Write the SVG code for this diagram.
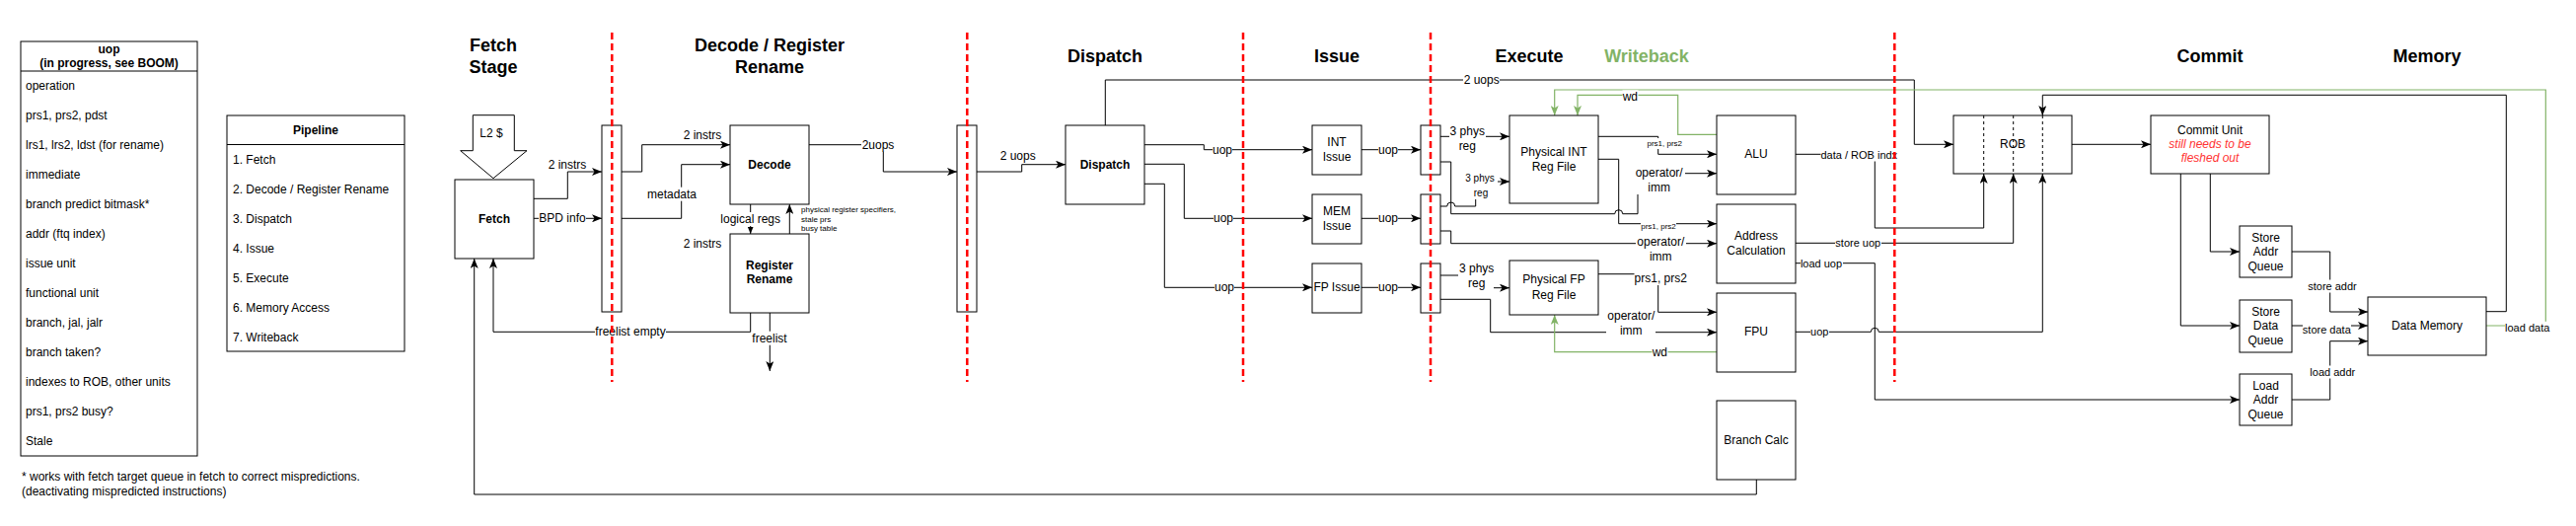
<svg xmlns="http://www.w3.org/2000/svg" width="2611" height="533" viewBox="0 0 2611 533">
<style>
.t{font-family:"Liberation Sans",Arial,Helvetica,sans-serif;font-size:12px;fill:#000;dominant-baseline:central}
.c{text-anchor:middle}
.b{font-weight:bold}
.h{font-size:18px;font-weight:bold}
.s11{font-size:11px}
.s10{font-size:10px}
.s8{font-size:8px}
.box{fill:#fff;stroke:#000;stroke-width:1}
.ln{fill:none;stroke:#000;stroke-width:1}
.gr{fill:none;stroke:#82b366;stroke-width:1.2}
.red{fill:none;stroke:#ff0000;stroke-width:2.5;stroke-dasharray:7 4}
.bg{fill:#fff}
.dv{fill:none;stroke:#000;stroke-width:1;stroke-dasharray:3 3}
</style>
<defs>
<marker id="a" viewBox="0 0 10 8" refX="10" refY="4" markerWidth="10" markerHeight="8" markerUnits="userSpaceOnUse" orient="auto"><path d="M0,0 L10,4 L0,8 L2.5,4 z" fill="#000"/></marker>
<marker id="ag" viewBox="0 0 10 8" refX="10" refY="4" markerWidth="10" markerHeight="8" markerUnits="userSpaceOnUse" orient="auto"><path d="M0,0 L10,4 L0,8 L2.5,4 z" fill="#82b366"/></marker>
<marker id="as" viewBox="0 0 10 8" refX="10" refY="4" markerWidth="7" markerHeight="6" markerUnits="userSpaceOnUse" orient="auto"><path d="M0,0 L10,4 L0,8 z" fill="#000"/></marker>
</defs>
<rect width="2611" height="533" fill="#fff"/>

<!-- titles -->
<g id="titles">
<text class="t c h" x="500" y="46">Fetch</text>
<text class="t c h" x="500" y="68">Stage</text>
<text class="t c h" x="780" y="46">Decode / Register</text>
<text class="t c h" x="780" y="68">Rename</text>
<text class="t c h" x="1120" y="57">Dispatch</text>
<text class="t c h" x="1355" y="57">Issue</text>
<text class="t c h" x="1550" y="57">Execute</text>
<text class="t c h" x="1669" y="57" style="fill:#82b366">Writeback</text>
<text class="t c h" x="2240" y="57">Commit</text>
<text class="t c h" x="2460" y="57">Memory</text>
</g>

<!-- uop list -->
<g id="uop-box">
<rect class="box" x="21" y="42" width="179" height="420"/>
<line class="ln" x1="21" y1="72" x2="200" y2="72"/>
<text class="t c b" x="110.5" y="50">uop</text>
<text class="t c b" x="110.5" y="63.5">(in progress, see BOOM)</text>
<text class="t" x="26" y="86.7">operation</text>
<text class="t" x="26" y="116.7">prs1, prs2, pdst</text>
<text class="t" x="26" y="146.7">lrs1, lrs2, ldst (for rename)</text>
<text class="t" x="26" y="176.7">immediate</text>
<text class="t" x="26" y="206.7">branch predict bitmask*</text>
<text class="t" x="26" y="236.7">addr (ftq index)</text>
<text class="t" x="26" y="266.7">issue unit</text>
<text class="t" x="26" y="296.7">functional unit</text>
<text class="t" x="26" y="326.7">branch, jal, jalr</text>
<text class="t" x="26" y="356.7">branch taken?</text>
<text class="t" x="26" y="386.7">indexes to ROB, other units</text>
<text class="t" x="26" y="416.7">prs1, prs2 busy?</text>
<text class="t" x="26" y="446.7">Stale</text>
</g>

<g id="pipeline-box">
<rect class="box" x="230" y="117" width="180" height="239"/>
<line class="ln" x1="230" y1="146.5" x2="410" y2="146.5"/>
<text class="t c b" x="320" y="131.7">Pipeline</text>
<text class="t" x="236" y="161.7">1. Fetch</text>
<text class="t" x="236" y="191.7">2. Decode / Register Rename</text>
<text class="t" x="236" y="221.7">3. Dispatch</text>
<text class="t" x="236" y="251.7">4. Issue</text>
<text class="t" x="236" y="281.7">5. Execute</text>
<text class="t" x="236" y="311.7">6. Memory Access</text>
<text class="t" x="236" y="341.7">7. Writeback</text>
</g>

<g id="footnote">
<text class="t" x="22" y="483.3">* works with fetch target queue in fetch to correct mispredictions.</text>
<text class="t" x="22" y="498.3">(deactivating mispredicted instructions)</text>
</g>

<!-- connectors -->
<g id="connectors">
<path class="ln" d="M541,201.3 H575.3 V174 H610" marker-end="url(#a)"/>
<path class="ln" d="M541,221.3 H610" marker-end="url(#a)"/>
<path class="ln" d="M630,174 H650.7 V146.7 H740" marker-end="url(#a)"/>
<path class="ln" d="M630,221.3 H690.7 V166.7 H740" marker-end="url(#a)"/>
<path class="ln" d="M760.7,207 V237" marker-end="url(#as)"/>
<path class="ln" d="M800.3,237 V207" marker-end="url(#a)"/>
<path class="ln" d="M760.7,317 V336.3 H500 V262" marker-end="url(#a)"/>
<path class="ln" d="M780.3,317 V376" marker-end="url(#a)"/>
<path class="ln" d="M820,146.7 H895.3 V174 H970" marker-end="url(#a)"/>
<path class="ln" d="M990,174 H1035.7 V166.7 H1080" marker-end="url(#a)"/>
<path class="ln" d="M1120.3,127 V81 H1940.3 V146.3 H1980" marker-end="url(#a)"/>
<path class="ln" d="M1160,146.7 H1220.3 V151.7 H1330" marker-end="url(#a)"/>
<path class="ln" d="M1160,166.3 H1200.3 V221.3 H1330" marker-end="url(#a)"/>
<path class="ln" d="M1160,186.3 H1180.3 V291.3 H1330" marker-end="url(#a)"/>
<path class="ln" d="M1380,151.7 H1440" marker-end="url(#a)"/>
<path class="ln" d="M1380,221.3 H1440" marker-end="url(#a)"/>
<path class="ln" d="M1380,291.3 H1440" marker-end="url(#a)"/>
<path class="ln" d="M1460,138.3 H1530" marker-end="url(#a)"/>
<path class="ln" d="M1460,209 H1466.7 A4,4 0 0 1 1474.7,209 H1495.7 V184 H1530" marker-end="url(#a)"/>
<path class="ln" d="M1460,164 H1470.7 V216.7 H1636.7 A4,4 0 0 1 1644.7,216.7 H1660 V175.7 H1740" marker-end="url(#a)"/>
<path class="ln" d="M1620,138.3 H1680.7 V156.3 H1740" marker-end="url(#a)"/>
<path class="ln" d="M1620,161.3 H1640.7 V226.7 H1740" marker-end="url(#a)"/>
<path class="ln" d="M1460,234 H1470.7 V246.7 H1740" marker-end="url(#a)"/>
<path class="ln" d="M1460,279 H1496.7 V291.7 H1530" marker-end="url(#a)"/>
<path class="ln" d="M1460,303.3 H1510.7 V336.7 H1740" marker-end="url(#a)"/>
<path class="ln" d="M1620,277.7 H1680.7 V316.3 H1740" marker-end="url(#a)"/>
<path class="gr" d="M1740,356.7 H1575.7 V319" marker-end="url(#ag)"/>
<path class="gr" d="M1740,136.3 H1700.7 V96.3 H1599 V117" marker-end="url(#ag)"/>
<path class="gr" d="M2520,330 H2580.3 V91 H1575.7 V117" marker-end="url(#ag)"/>
<path class="ln" d="M1820,156.3 H1900.3 V231 H2010.7 V176" marker-end="url(#a)"/>
<path class="ln" d="M1820,246.3 H2040.7 V176" marker-end="url(#a)"/>
<path class="ln" d="M1820,266.7 H1900.3 V405 H2270" marker-end="url(#a)"/>
<path class="ln" d="M1820,336.3 H1896.3 A4,4 0 0 1 1904.3,336.3 H2070.3 V176" marker-end="url(#a)"/>
<path class="ln" d="M1780.3,486 V501 H480.7 V262" marker-end="url(#a)"/>
<path class="ln" d="M2100,146.3 H2180" marker-end="url(#a)"/>
<path class="ln" d="M2240.3,176 V255 H2270" marker-end="url(#a)"/>
<path class="ln" d="M2210.3,176 V330 H2270" marker-end="url(#a)"/>
<path class="ln" d="M2323,255 H2361.7 V316 H2400" marker-end="url(#a)"/>
<path class="ln" d="M2323,330 H2400" marker-end="url(#a)"/>
<path class="ln" d="M2323,405 H2361.7 V345.7 H2400" marker-end="url(#a)"/>
<path class="ln" d="M2520,315.7 H2540.3 V96.3 H2070.3 V117" marker-end="url(#a)"/>

<!-- label backgrounds -->
<rect class="bg" x="546" y="214" width="48" height="14"/>
<rect class="bg" x="656" y="189.7" width="50" height="14"/>
<rect class="bg" x="730" y="215" width="61" height="14"/>
<rect class="bg" x="603" y="329.3" width="72" height="14"/>
<rect class="bg" x="762" y="335.7" width="36" height="14"/>
<rect class="bg" x="873" y="139.7" width="34" height="14"/>
<rect class="bg" x="1483" y="74" width="37" height="14"/>
<rect class="bg" x="1229" y="144.7" width="20" height="14"/>
<rect class="bg" x="1230" y="214.3" width="20" height="14"/>
<rect class="bg" x="1231" y="284.3" width="20" height="14"/>
<rect class="bg" x="1397" y="144.7" width="20" height="14"/>
<rect class="bg" x="1397" y="214.3" width="20" height="14"/>
<rect class="bg" x="1397" y="284.3" width="20" height="14"/>
<rect class="bg" x="1469" y="126" width="37" height="29"/>
<rect class="bg" x="1484" y="174" width="34" height="28"/>
<rect class="bg" x="1478" y="264.5" width="36" height="29"/>
<rect class="bg" x="1656" y="168" width="52" height="29"/>
<rect class="bg" x="1658" y="238" width="51" height="29"/>
<rect class="bg" x="1628" y="313" width="50" height="29"/>
<rect class="bg" x="1669" y="140" width="36" height="11"/>
<rect class="bg" x="1663" y="224.5" width="36" height="11"/>
<rect class="bg" x="1656.5" y="275" width="54" height="14"/>
<rect class="bg" x="1674.5" y="349.7" width="16" height="14"/>
<rect class="bg" x="1644.5" y="91.3" width="16" height="14"/>
<rect class="bg" x="1845.5" y="150.5" width="78" height="13"/>
<rect class="bg" x="1860" y="239.8" width="47" height="13"/>
<rect class="bg" x="1825" y="260.2" width="43" height="13"/>
<rect class="bg" x="1835" y="329.8" width="19" height="13"/>
<rect class="bg" x="2339" y="283.5" width="50" height="13"/>
<rect class="bg" x="2334" y="327.8" width="49" height="13"/>
<rect class="bg" x="2341" y="370.5" width="46" height="13"/>
<rect class="bg" x="2539" y="325.8" width="45" height="13"/>

<!-- labels -->
<text class="t c" x="575" y="166.7">2 instrs</text>
<text class="t c" x="570" y="221.3">BPD info</text>
<text class="t c" x="712" y="136.7">2 instrs</text>
<text class="t c" x="681" y="196.7">metadata</text>
<text class="t c" x="760.7" y="222">logical regs</text>
<text class="t" x="812" y="212.7" style="font-size:8px">physical register specifiers,</text>
<text class="t" x="812" y="222.2" style="font-size:8px">stale prs</text>
<text class="t" x="812" y="231.7" style="font-size:8px">busy table</text>
<text class="t c" x="712" y="246.7">2 instrs</text>
<text class="t c" x="639" y="336.3">freelist empty</text>
<text class="t c" x="780" y="342.7">freelist</text>
<text class="t c" x="890" y="146.7">2uops</text>
<text class="t c" x="1031.7" y="157.7">2 uops</text>
<text class="t c" x="1501.7" y="81">2 uops</text>
<text class="t c" x="1239" y="151.7">uop</text>
<text class="t c" x="1240" y="221.3">uop</text>
<text class="t c" x="1241" y="291.3">uop</text>
<text class="t c" x="1407" y="151.7">uop</text>
<text class="t c" x="1407" y="221.3">uop</text>
<text class="t c" x="1407" y="291.3">uop</text>
<text class="t c" x="1487.3" y="133.3">3 phys</text>
<text class="t c" x="1487.3" y="147.7">reg</text>
<text class="t c s10" x="1500" y="180.7">3 phys</text>
<text class="t c s10" x="1501" y="195.3">reg</text>
<text class="t c" x="1496.7" y="271.7">3 phys</text>
<text class="t c" x="1496.7" y="286.7">reg</text>
<text class="t c" x="1681.7" y="175">operator/</text>
<text class="t c" x="1681.7" y="190">imm</text>
<text class="t c" x="1683.3" y="245">operator/</text>
<text class="t c" x="1683.3" y="260">imm</text>
<text class="t c" x="1653.3" y="320">operator/</text>
<text class="t c" x="1653.3" y="334.7">imm</text>
<text class="t c s8" x="1687.3" y="145">prs1, prs2</text>
<text class="t c s8" x="1681" y="229.7">prs1, prs2</text>
<text class="t c" x="1683.3" y="282">prs1, prs2</text>
<text class="t c" x="1682.3" y="356.7">wd</text>
<text class="t c" x="1652.3" y="98.3">wd</text>
<text class="t c s11" x="1884.3" y="157">data / ROB indx</text>
<text class="t c s11" x="1883.3" y="246.3">store uop</text>
<text class="t c s11" x="1846" y="266.7">load uop</text>
<text class="t c s11" x="1844.3" y="336.3">uop</text>
<text class="t c s11" x="2364" y="290">store addr</text>
<text class="t c s11" x="2358.3" y="334.3">store data</text>
<text class="t c s11" x="2364.3" y="377">load addr</text>
<text class="t c s11" x="2561.7" y="332.3">load data</text>
</g>

<!-- nodes -->
<g id="l2-cache">
<polygon class="box" points="479.3,116.7 521.3,116.7 521.3,152.7 534,152.7 500,180.7 466.7,152.7 479.3,152.7"/>
<text class="t c" x="498" y="135">L2 $</text>
</g>
<g id="fetch"><rect class="box" x="461" y="182" width="80" height="80"/><text class="t c b" x="501" y="222">Fetch</text></g>
<g id="pipe-reg-1"><rect class="box" x="610" y="127" width="20" height="189"/></g>
<g id="decode"><rect class="box" x="740" y="127" width="80" height="80"/><text class="t c b" x="780" y="166.7">Decode</text></g>
<g id="rename"><rect class="box" x="740" y="237" width="80" height="80"/><text class="t c b" x="780" y="268.7">Register</text><text class="t c b" x="780" y="283.3">Rename</text></g>
<g id="pipe-reg-2"><rect class="box" x="970" y="127" width="20" height="189"/></g>
<g id="dispatch"><rect class="box" x="1080" y="127" width="80" height="80"/><text class="t c b" x="1120" y="166.7">Dispatch</text></g>
<g id="int-issue"><rect class="box" x="1330" y="127" width="50" height="50"/><text class="t c" x="1355" y="144">INT</text><text class="t c" x="1355" y="158.7">Issue</text></g>
<g id="mem-issue"><rect class="box" x="1330" y="197" width="50" height="50"/><text class="t c" x="1355" y="213.7">MEM</text><text class="t c" x="1355" y="228.7">Issue</text></g>
<g id="fp-issue"><rect class="box" x="1330" y="267" width="50" height="50"/><text class="t c" x="1355" y="291.3">FP Issue</text></g>
<g id="pipe-reg-int"><rect class="box" x="1440" y="127" width="20" height="50"/></g>
<g id="pipe-reg-mem"><rect class="box" x="1440" y="197" width="20" height="50"/></g>
<g id="pipe-reg-fp"><rect class="box" x="1440" y="267" width="20" height="50"/></g>
<g id="int-regfile"><rect class="box" x="1530" y="117" width="90" height="89"/><text class="t c" x="1575" y="154">Physical INT</text><text class="t c" x="1575" y="168.7">Reg File</text></g>
<g id="fp-regfile"><rect class="box" x="1530" y="264" width="90" height="55"/><text class="t c" x="1575" y="283.3">Physical FP</text><text class="t c" x="1575" y="298.7">Reg File</text></g>
<g id="alu"><rect class="box" x="1740" y="117" width="80" height="80"/><text class="t c" x="1780" y="155.7">ALU</text></g>
<g id="addr-calc"><rect class="box" x="1740" y="207" width="80" height="80"/><text class="t c" x="1780" y="238.7">Address</text><text class="t c" x="1780" y="253.7">Calculation</text></g>
<g id="fpu"><rect class="box" x="1740" y="297" width="80" height="80"/><text class="t c" x="1780" y="336">FPU</text></g>
<g id="branch-calc"><rect class="box" x="1740" y="406" width="80" height="80"/><text class="t c" x="1780" y="445.7">Branch Calc</text></g>
<g id="rob"><rect class="box" x="1980" y="117" width="120" height="59"/>
<line class="dv" x1="2010.7" y1="117" x2="2010.7" y2="176"/>
<line class="dv" x1="2040.7" y1="117" x2="2040.7" y2="176"/>
<line class="dv" x1="2070.3" y1="117" x2="2070.3" y2="176"/>
<text class="t c" x="2040" y="145.7">ROB</text></g>
<g id="commit-unit"><rect class="box" x="2180" y="117" width="120" height="59"/>
<text class="t c" x="2240" y="131.7">Commit Unit</text>
<text class="t c" x="2240" y="146" style="fill:#ff3333;font-style:italic">still needs to be</text>
<text class="t c" x="2240" y="160.3" style="fill:#ff3333;font-style:italic">fleshed out</text></g>
<g id="store-addr-queue"><rect class="box" x="2270" y="229" width="53" height="52"/><text class="t c" x="2296.5" y="241">Store</text><text class="t c" x="2296.5" y="255">Addr</text><text class="t c" x="2296.5" y="269.7">Queue</text></g>
<g id="store-data-queue"><rect class="box" x="2270" y="304" width="53" height="53"/><text class="t c" x="2296.5" y="316">Store</text><text class="t c" x="2296.5" y="330">Data</text><text class="t c" x="2296.5" y="345">Queue</text></g>
<g id="load-addr-queue"><rect class="box" x="2270" y="379" width="53" height="52"/><text class="t c" x="2296.5" y="391">Load</text><text class="t c" x="2296.5" y="405">Addr</text><text class="t c" x="2296.5" y="419.7">Queue</text></g>
<g id="data-memory"><rect class="box" x="2400" y="301" width="120" height="59"/><text class="t c" x="2460" y="330">Data Memory</text></g>

<!-- stage separators -->
<g id="stage-separators">
<line class="red" x1="620.3" y1="33" x2="620.3" y2="387"/>
<line class="red" x1="980.3" y1="33" x2="980.3" y2="387"/>
<line class="red" x1="1260" y1="33" x2="1260" y2="387"/>
<line class="red" x1="1450" y1="33" x2="1450" y2="387"/>
<line class="red" x1="1920.3" y1="33" x2="1920.3" y2="387"/>
</g>
</svg>
